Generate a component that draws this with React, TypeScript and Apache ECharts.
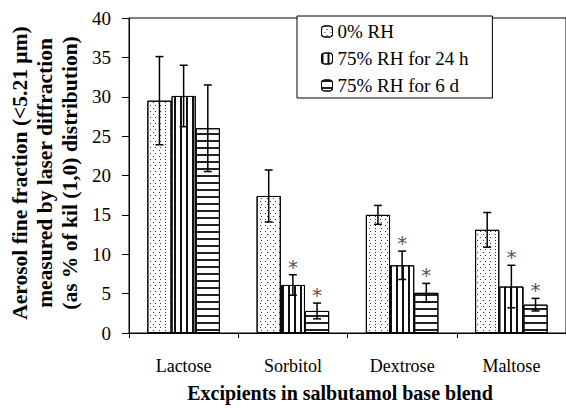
import React, { useEffect, useRef } from "react";
import * as echarts from "echarts";

const categories = ["Lactose", "Sorbitol", "Dextrose", "Maltose"];
const seriesNames = ["0% RH", "75% RH for 24 h", "75% RH for 6 d"];
const rh0 = [29.5, 17.4, 15.0, 13.1];
const rh24h = [30.1, 6.1, 8.6, 5.9];
const rh6d = [26.0, 2.8, 5.1, 3.6];
const err0 = [5.6, 3.3, 1.2, 2.2];
const err24h = [3.9, 1.3, 1.8, 2.7];
const err6d = [5.5, 1.0, 1.2, 0.8];
const sig0 = [0, 0, 0, 0];
const sig24h = [0, 1, 1, 1];
const sig6d = [0, 1, 1, 1];
const yTicks = [0, 5, 10, 15, 20, 25, 30, 35, 40];

const FONT = "'Liberation Serif', 'Times New Roman', serif";
const GAP = 0.336;

export default function App() {
  const ref = useRef<HTMLDivElement>(null);
  useEffect(() => {
    const chart = echarts.init(ref.current!, null, { renderer: "svg" });
    const values = [rh0, rh24h, rh6d];
    const errs = [err0, err24h, err6d];
    const sigs = [sig0, sig24h, sig6d];
    const decals: any[] = [
      {
        symbol: "rect",
        symbolSize: 1,
        color: "#333",
        backgroundColor: "#fff",
        dashArrayX: [[1, 4], [0, 2.5, 1, 1.5]],
        dashArrayY: [1, 1.6],
      },
      {
        symbol: "rect",
        symbolSize: 1,
        color: "#111",
        backgroundColor: "#fff",
        dashArrayX: [2, 4],
        dashArrayY: [1, 0],
      },
      {
        symbol: "rect",
        symbolSize: 1,
        color: "#222",
        backgroundColor: "#fff",
        dashArrayX: [1, 0],
        dashArrayY: [1.6, 4.4],
      },
    ];
    const errData: any[] = [];
    for (let s = 0; s < 3; s++) {
      for (let c = 0; c < categories.length; c++) {
        errData.push([c, s, values[s][c], errs[s][c], sigs[s][c]]);
      }
    }
    const barSeries = seriesNames.map((name, s) => ({
      name,
      type: "bar",
      data: values[s],
      barGap: "0%",
      barCategoryGap: (GAP * 100).toFixed(1) + "%",
      itemStyle: {
        color: "#fff",
        borderColor: "#000",
        borderWidth: 1,
        decal: decals[s],
      },
      z: 2,
    }));
    chart.setOption({
      animation: false,
      backgroundColor: "#fff",
      grid: {
        left: 129,
        right: -3,
        top: 18,
        bottom: 75,
        show: true,
        borderColor: "#000",
        borderWidth: 1,
        backgroundColor: "transparent",
      },
      legend: {
        data: seriesNames,
        orient: "vertical",
        left: 297,
        top: 16,
        backgroundColor: "#fff",
        borderColor: "#000",
        borderWidth: 1,
        borderRadius: 0,
        padding: [6, 24, 3, 24],
        itemWidth: 11,
        itemHeight: 11,
        itemGap: 8,
        itemStyle: { borderColor: "#000", borderWidth: 1 },
        textStyle: { fontFamily: FONT, fontSize: 19, color: "#000" },
      },
      xAxis: {
        type: "category",
        data: categories,
        axisLine: { lineStyle: { color: "#000", width: 1 } },
        axisTick: { show: true, length: 5, lineStyle: { color: "#000" } },
        axisLabel: { fontFamily: FONT, fontSize: 18, color: "#000", margin: 24 },
      },
      yAxis: {
        type: "value",
        min: 0,
        max: 40,
        interval: 5,
        splitLine: { show: false },
        axisLine: { show: true, lineStyle: { color: "#000", width: 1 } },
        axisTick: { show: true, length: 7, lineStyle: { color: "#000" } },
        axisLabel: {
          fontFamily: FONT,
          fontSize: 19,
          color: "#000",
          margin: 18,
          formatter: (v: number) => (yTicks.includes(v) ? String(v) : ""),
        },
      },
      series: [
        ...barSeries,
        {
          type: "custom",
          name: "err",
          z: 5,
          encode: { x: 0, y: 2 },
          data: errData,
          renderItem: (params: any, api: any) => {
            const cat = api.value(0);
            const s = api.value(1);
            const v = api.value(2);
            const e = api.value(3);
            const sig = api.value(4);
            const band = api.size([1, 0])[0];
            const bw = (band * (1 - GAP)) / 3;
            const c = api.coord([cat, v]);
            const x = c[0] + (s - 1) * bw;
            const yT = api.coord([cat, v + e])[1];
            const yB = api.coord([cat, v - e])[1];
            const cap = 4;
            const st = { stroke: "#000", lineWidth: 1.5 };
            const children: any[] = [
              { type: "line", shape: { x1: x, y1: yT, x2: x, y2: yB }, style: st },
              { type: "line", shape: { x1: x - cap, y1: yT, x2: x + cap, y2: yT }, style: st },
              { type: "line", shape: { x1: x - cap, y1: yB, x2: x + cap, y2: yB }, style: st },
            ];
            if (sig) {
              children.push({
                type: "text",
                style: {
                  x: x,
                  y: yT - 8,
                  text: "*",
                  fontFamily: "'DejaVu Sans', sans-serif",
                  fontSize: 20,
                  fill: "#555",
                  align: "center",
                  verticalAlign: "middle",
                },
              });
            }
            return { type: "group", children };
          },
        },
      ],
      graphic: [
        {
          type: "text",
          x: 45,
          y: 173,
          rotation: Math.PI / 2,
          style: {
            text:
              "Aerosol fine fraction (<5.21 µm)\nmeasured by laser diffraction\n(as % of kil (1,0) distribution)",
            fontFamily: FONT,
            fontSize: 21.5,
            fontWeight: "bold",
            lineHeight: 25,
            fill: "#000",
            align: "center",
            verticalAlign: "middle",
          },
        },
        {
          type: "text",
          x: 340,
          y: 393,
          style: {
            text: "Excipients in salbutamol base blend",
            fontFamily: FONT,
            fontSize: 20,
            fontWeight: "bold",
            fill: "#000",
            align: "center",
            verticalAlign: "middle",
          },
        },
      ],
    });
    return () => chart.dispose();
  }, []);
  return (
    <div
      ref={ref}
      style={{ position: "absolute", left: 0, top: 0, width: 566, height: 408 }}
    />
  );
}
